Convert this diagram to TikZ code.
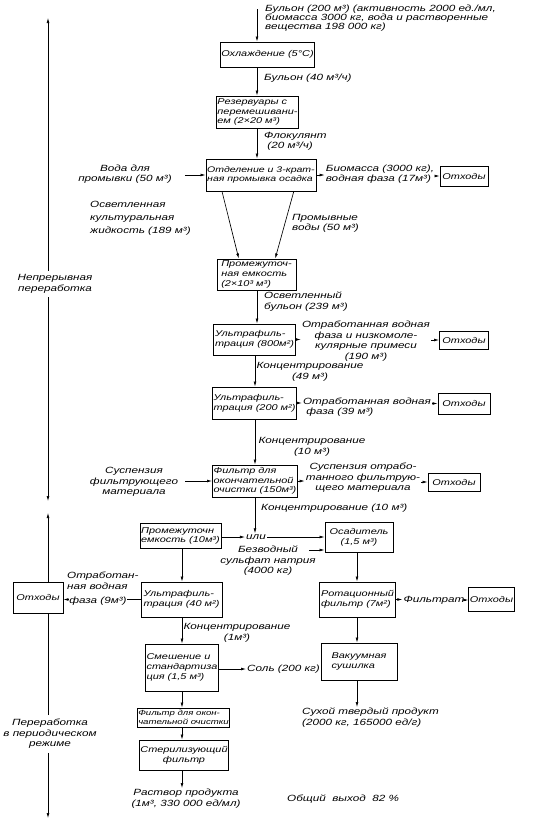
\documentclass[tikz,border=0pt]{standalone}
\usepackage{fontspec}
\setmainfont{Liberation Sans}[FakeStretch=1.3]
\usetikzlibrary{arrows.meta,calc}
\begin{document}
\begin{tikzpicture}[x=1pt,y=-1pt,
  lbl/.style={font=\itshape\fontsize{9}{10.5}\selectfont, inner sep=1pt, align=left},
  bx/.style={draw, line width=0.85pt, fill=white, font=\itshape\fontsize{8.4}{9.7}\selectfont, inner sep=1.2pt, align=left},
  arr/.style={-{Latex[length=5pt,width=2.8pt]}, line width=0.65pt}]
\fill[white] (0,0) rectangle (555,822);
\useasboundingbox (0,0) rectangle (555,822);
% column coordinates
\coordinate (cA) at (257,0);
\coordinate (cB) at (255,0);
\coordinate (cL) at (182,0);
\coordinate (cR) at (357,0);
% left side process arrows
\coordinate (ltop) at (48,18);
\coordinate (lmid1) at (48,501);
\coordinate (lmid2) at (48,513);
\coordinate (lbot) at (48,818);
\node[lbl, align=center, inner sep=4pt] (cont) at (55,284) {Непрерывная\\переработка};
\node[lbl, align=center, inner sep=4pt] (batch) at (50,734) {Переработка\\в периодическом\\режиме};
\draw[arr] (ltop |- cont.north) -- (ltop);
\draw[arr] (ltop |- cont.south) -- (lmid1);
\draw[arr] (ltop |- batch.north) -- (lmid2);
\draw[arr] (ltop |- batch.south) -- (lbot);
% boxes
\node[bx, minimum width=89, minimum height=25] (b1) at (267.5,54.5) {Охлаждение (5°C)};
\node[bx, minimum width=77, minimum height=32] (b2) at (257.5,112) {Резервуары с\\перемешивани-\\ем (2×20 м³)};
\node[bx, minimum width=108, minimum height=32, font=\itshape\fontsize{8.1}{9.7}\selectfont] (b3) at (261,175) {Отделение и 3-крат-\\ная промывка осадка};
\node[bx, minimum width=79, minimum height=31] (b4) at (256.5,274.5) {Промежуточ-\\ная емкость\\(2×10³ м³)};
\node[bx, minimum width=81, minimum height=31] (b5) at (254.5,339.5) {Ультрафиль-\\трация (800м²)};
\node[bx, minimum width=81, minimum height=32] (b6) at (254.5,403) {Ультрафиль-\\трация (200 м²)};
\node[bx, minimum width=82, minimum height=32] (b7) at (255,481) {Фильтр для\\окончательной\\очистки (150м³)};
\node[bx, minimum width=73, minimum height=25] (b8) at (180.5,536) {Промежуточн\\емкость (10м³)};
\node[bx, minimum width=68, minimum height=30, align=center] (b9) at (359,537) {Осадитель\\(1,5 м³)};
\node[bx, minimum width=81, minimum height=35] (b10) at (181.5,599.5) {Ультрафиль-\\трация (40 м²)};
\node[bx, minimum width=50, minimum height=31] (o5) at (38,597.5) {Отходы};
\node[bx, minimum width=71, minimum height=35] (b12) at (357.5,599.5) {Ротационный\\фильтр (7м²)};
\node[bx, minimum width=41, minimum height=24] (o6) at (491.5,599) {Отходы};
\node[bx, minimum width=70, minimum height=47] (b14) at (182,667.5) {Смешение и\\стандартиза\\ция (1,5 м³)};
\node[bx, minimum width=76, minimum height=37] (b15) at (359,661.5) {Вакуумная\\сушилка};
\node[bx, minimum width=89, minimum height=19, font=\itshape\fontsize{7.4}{8.4}\selectfont, inner sep=0.8pt] (b16) at (183.5,717.5) {Фильтр для окон-\\чательной очистки};
\node[bx, minimum width=88, minimum height=30, align=center] (b17) at (184,755) {Стерилизующий\\фильтр};
\node[bx, minimum width=48, minimum height=20] (o1) at (464,176) {Отходы};
\node[bx, minimum width=49, minimum height=18] (o2) at (464,340) {Отходы};
\node[bx, minimum width=52, minimum height=21] (o3) at (464,403.5) {Отходы};
\node[bx, minimum width=52, minimum height=18] (o4) at (454,482) {Отходы};
% labels
\node[lbl, anchor=north west, font=\itshape\fontsize{9}{9}\selectfont] (t0) at (264,4) {Бульон (200 м³) (активность 2000 ед./мл,\\биомасса 3000 кг, вода и растворенные\\вещества 198 000 кг)};
\node[lbl, anchor=west] (l1) at (263,78) {Бульон (40 м³/ч)};
\node[lbl, anchor=north west] (l2) at (263,131) {Флокулянт\\\ (20 м³/ч)};
\node[lbl, align=center] (l3) at (125,174) {Вода для\\промывки (50 м³)};
\node[lbl] (r3) at (380,174) {Биомасса (3000 кг),\\водная фаза (17м³)};
\node[lbl, anchor=north west, font=\itshape\fontsize{9}{13}\selectfont] (l4) at (89,200) {Осветленная\\культуральная\\жидкость (189 м³)};
\node[lbl, anchor=north west] (r4) at (291,213) {Промывные\\воды (50 м³)};
\node[lbl, anchor=north west] (l5) at (263,291) {Осветленный\\бульон (239 м³)};
\node[lbl, align=center] (r5) at (366,341) {Отработанная водная\\фаза и низкомоле-\\кулярные примеси\\(190 м³)};
\node[lbl, align=center] (l6) at (310,372) {Концентрирование\\(49 м³)};
\node[lbl] (r6) at (367,407) {Отработанная водная\\\ фаза (39 м³)};
\node[lbl, align=center] (l7) at (312,447) {Концентрирование\\(10 м³)};
\node[lbl, align=center] (l8) at (134,482) {Суспензия\\фильтрующего\\материала};
\node[lbl, align=center] (r8) at (363,478) {Суспензия отрабо-\\танного фильтрую-\\щего материала};
\node[lbl, anchor=west] (l9) at (260,508) {Концентрирование (10 м³)};
\node[lbl] (ili) at (256,537) {или};
\node[lbl, align=center] (sulf) at (268,561) {Безводный\\сульфат натрия\\(4000 кг)};
\node[lbl, anchor=north west] (wl1) at (66,571) {Отработан-\\ная водная};
\node[lbl, align=center] (l10) at (237,633) {Концентрирование\\(1м³)};
\node[lbl, anchor=west] (salt) at (246,669) {Соль (200 кг)};
\node[lbl] (filt) at (434,600) {Фильтрат};
\node[lbl, anchor=north west] (prod) at (301,707) {Сухой твердый продукт\\(2000 кг, 165000 ед/г)};
\node[lbl, anchor=north, align=center] (sol) at (186,788) {Раствор продукта\\(1м³, 330 000 ед/мл)};
\node[lbl, anchor=west] (yield) at (286,799) {Общий \ выход \ 82 \%};
% main column arrows
\coordinate (s0) at (257,9);
\draw[arr] (s0) -- (s0 |- b1.north);
\draw[arr] (b1.south -| cA) -- (cA |- b2.north);
\draw[arr] (b2.south -| cA) -- (cA |- b3.north);
\draw[arr] ([xshift=12pt]l3.east |- b3.west) -- (b3.west);
\draw[arr] (b3.east) -- (r3.west |- b3.east);
\draw[arr] (r3.east |- o1.west) -- (o1.west);
\draw[arr] ($(b3.south west)!0.148!(b3.south east)$) -- ($(b4.north west)!0.278!(b4.north east)$);
\draw[arr] ($(b3.south west)!0.796!(b3.south east)$) -- ($(b4.north west)!0.734!(b4.north east)$);
\draw[arr] (b4.south -| cA) -- (cA |- b5.north);
\draw[arr] (b5.east) -- (r5.west |- b5.east);
\draw[arr] (r5.east |- o2.west) -- (o2.west);
\draw[arr] (b5.south -| cB) -- (cB |- b6.north);
\draw[arr] (b6.east) -- (r6.west |- b6.east);
\draw[arr] (r6.east |- o3.west) -- (o3.west);
\draw[arr] (b6.south -| cB) -- (cB |- b7.north);
\draw[arr] ([xshift=6pt]l8.east |- b7.west) -- (b7.west);
\draw[arr] (b7.east) -- (r8.west |- b7.east);
\draw[arr] (r8.east |- o4.west) -- (o4.west);
\draw[arr] (b7.south -| cB) -- (cB |- ili.north);
\draw[arr] (b8.east |- ili.west) -- (ili.west);
\draw[arr] (ili.east) -- (b9.west |- ili.east);
\coordinate (sa) at (309,550);
\draw[arr] (sa) -- (sa -| b9.west);
% left batch column
\draw[arr] (b8.south -| cL) -- (cL |- b10.north);
\draw[arr] (b10.west) -- (o5.east |- b10.west);
\node[lbl, fill=white, inner sep=0.5pt] (wl2) at (98,601) {фаза (9м³)};
\draw[arr] (b10.south -| cL) -- (cL |- b14.north);
\draw[arr] (b14.east |- salt.west) -- (salt.west);
\draw[arr] (b14.south -| cL) -- (cL |- b16.north);
\draw[arr] (b16.south -| cL) -- (cL |- b17.north);
\draw[arr] (b17.south -| cL) -- (cL |- sol.north);
% right batch column
\draw[arr] (b9.south -| cR) -- (cR |- b12.north);
\draw[arr] (b12.east) -- (filt.west |- b12.east);
\draw[arr] (filt.east) -- (o6.west |- filt.east);
\draw[arr] (b12.south -| cR) -- (cR |- b15.north);
\draw[arr] (b15.south -| cR) -- (cR |- prod.north);
\end{tikzpicture}
\end{document}
